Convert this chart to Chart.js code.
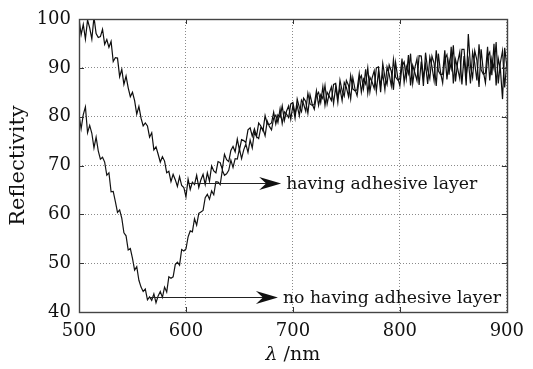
<!DOCTYPE html>
<html>
<head>
<meta charset="utf-8">
<script src="https://cdn.jsdelivr.net/npm/chart.js@4"></script>
<style>
html, body { margin: 0; padding: 0; background: #fff; }
</style>
</head>
<body>
<canvas id="reflectChart" width="533" height="369"></canvas>
<script>
// sampling grid of the spectrometer, 2 nm steps
const wavelengths = Array.from({ length: 201 }, (_, i) => 500 + 2 * i);

const withAdhesive = [
    100.0, 96.8, 98.9, 95.9, 99.8, 98.2, 95.9, 100.4, 97.0, 96.2,
    96.4, 97.9, 94.8, 95.8, 94.2, 95.4, 91.3, 92.1, 92.0, 88.2,
    89.7, 86.6, 88.3, 85.9, 84.1, 85.0, 83.3, 80.5, 82.1, 79.7,
    78.1, 78.7, 78.1, 75.8, 76.7, 73.2, 73.8, 72.3, 70.7, 71.8,
    70.9, 68.5, 68.8, 66.7, 68.2, 67.1, 65.7, 67.7, 65.9, 65.5,
    63.6, 67.2, 65.1, 66.6, 66.1, 68.0, 65.5, 67.1, 68.2, 66.1,
    68.5, 66.8, 69.9, 68.9, 68.5, 70.8, 70.6, 69.2, 72.3, 71.2,
    70.8, 73.1, 73.9, 72.8, 75.4, 73.2, 75.3, 75.1, 74.7, 77.3,
    77.7, 76.0, 77.5, 76.0, 78.7, 78.1, 77.1, 80.2, 78.5, 78.4,
    78.7, 80.9, 78.5, 80.4, 79.9, 82.2, 79.2, 81.1, 82.2, 79.5,
    82.3, 79.7, 83.6, 81.9, 81.0, 83.8, 83.1, 80.7, 84.5, 82.6,
    81.5, 84.3, 85.0, 82.9, 86.1, 82.3, 85.0, 84.2, 83.3, 86.6,
    86.8, 83.9, 85.8, 83.3, 87.0, 86.0, 84.1, 88.4, 85.7, 85.3,
    85.5, 88.8, 85.0, 87.7, 86.7, 90.0, 85.1, 87.9, 89.4, 85.2,
    89.3, 85.0, 90.9, 88.1, 86.6, 90.6, 89.3, 85.5, 91.1, 88.0,
    86.3, 90.4, 91.2, 87.8, 92.6, 86.4, 90.5, 89.0, 87.4, 92.5,
    92.4, 87.9, 90.7, 86.7, 92.2, 90.3, 87.4, 93.6, 89.4, 88.6,
    88.7, 93.6, 87.6, 91.6, 89.8, 94.6, 87.2, 91.1, 93.2, 86.6,
    92.4, 86.4, 96.9, 90.3, 88.0, 93.5, 91.6, 86.1, 93.8, 89.3,
    86.9, 92.3, 93.2, 88.5, 94.9, 86.4, 91.9, 89.7, 83.6, 94.1,
    90.4
];

const withoutAdhesive = [
    80.3, 77.5, 80.4, 82.0, 76.7, 78.2, 76.6, 73.6, 75.8, 73.0,
    71.3, 71.7, 70.7, 68.0, 68.5, 64.6, 64.7, 62.6, 60.4, 60.9,
    59.2, 56.2, 55.6, 52.7, 53.0, 51.0, 48.6, 49.3, 46.5, 45.1,
    44.2, 44.7, 42.5, 43.1, 42.4, 43.7, 41.9, 43.3, 44.2, 43.0,
    45.1, 44.1, 47.2, 46.9, 47.2, 49.7, 50.2, 49.6, 52.8, 52.5,
    52.9, 55.4, 56.6, 56.4, 59.1, 57.8, 60.2, 60.5, 60.8, 63.4,
    64.1, 63.1, 64.8, 64.0, 66.7, 66.6, 66.1, 69.0, 68.0, 68.3,
    69.0, 71.1, 69.6, 71.4, 71.3, 73.4, 71.4, 73.2, 74.4, 72.7,
    75.2, 73.6, 76.8, 75.9, 75.5, 77.8, 77.5, 76.1, 79.1, 78.0,
    77.3, 79.7, 80.3, 78.8, 81.6, 78.6, 81.0, 80.5, 79.8, 82.6,
    82.9, 80.6, 82.3, 80.2, 83.4, 82.6, 81.1, 84.8, 82.6, 82.3,
    82.5, 85.3, 82.3, 84.5, 83.7, 86.4, 82.6, 84.8, 86.1, 82.7,
    86.1, 82.9, 87.5, 85.3, 84.2, 87.4, 86.4, 83.6, 88.0, 85.7,
    84.3, 87.6, 88.4, 85.7, 89.7, 84.8, 88.1, 87.1, 85.8, 90.0,
    90.2, 86.4, 88.8, 85.5, 90.2, 88.7, 86.3, 91.7, 88.1, 87.5,
    87.8, 91.9, 87.0, 90.3, 88.8, 92.9, 86.8, 90.0, 91.9, 86.5,
    91.3, 86.3, 93.1, 89.6, 87.8, 92.4, 90.9, 86.3, 92.9, 89.1,
    86.9, 91.8, 92.7, 88.6, 94.3, 86.8, 91.7, 89.9, 87.8, 93.8,
    93.8, 88.4, 91.6, 86.8, 93.2, 90.9, 87.4, 94.8, 89.6, 88.7,
    88.9, 94.3, 87.4, 91.9, 89.8, 95.3, 86.8, 91.1, 93.5, 86.0,
    91.2
];

const xTicks = [500, 600, 700, 800, 900];
const yTicks = [40, 50, 60, 70, 80, 90, 100];

// arrow notes: line from `from` to `to` (nm) at reflectivity `at`
const notes = [
    { text: 'having adhesive layer', from: 601, to: 689, at: 66.4 },
    { text: 'no having adhesive layer', from: 566, to: 686, at: 43.1 }
];

const serif = 'DejaVu Serif';

function toPoints(values) {
    return values.map((v, i) => ({ x: wavelengths[i], y: v }));
}

const framePlugin = {
    id: 'frame',
    afterDraw(chart) {
        const { ctx, chartArea: a, scales: { x, y } } = chart;
        ctx.save();
        ctx.strokeStyle = '#333';
        ctx.lineWidth = 1;

        // inward tick marks on all four sides
        ctx.beginPath();
        xTicks.forEach(t => {
            const px = Math.round(x.getPixelForValue(t)) + 0.5;
            ctx.moveTo(px, a.bottom); ctx.lineTo(px, a.bottom - 5);
            ctx.moveTo(px, a.top); ctx.lineTo(px, a.top + 5);
        });
        yTicks.forEach(t => {
            const py = Math.round(y.getPixelForValue(t)) + 0.5;
            ctx.moveTo(a.left, py); ctx.lineTo(a.left + 5, py);
            ctx.moveTo(a.right, py); ctx.lineTo(a.right - 5, py);
        });
        ctx.stroke();

        ctx.strokeStyle = '#444';
        ctx.lineWidth = 1.4;
        ctx.strokeRect(Math.round(a.left) + 0.5, Math.round(a.top) + 0.5,
            Math.round(a.right - a.left), Math.round(a.bottom - a.top));

        // arrows and their labels
        ctx.fillStyle = '#111';
        ctx.strokeStyle = '#222';
        ctx.lineWidth = 1;
        ctx.font = '17.3px "' + serif + '"';
        ctx.textBaseline = 'middle';
        notes.forEach(n => {
            const x0 = x.getPixelForValue(n.from);
            const tip = x.getPixelForValue(n.to);
            const py = Math.round(y.getPixelForValue(n.at)) + 0.5;
            ctx.beginPath();
            ctx.moveTo(x0, py);
            ctx.lineTo(tip - 14, py);
            ctx.stroke();
            ctx.beginPath();
            ctx.moveTo(tip, py);
            ctx.lineTo(tip - 22, py - 6.5);
            ctx.lineTo(tip - 15, py);
            ctx.lineTo(tip - 22, py + 6.5);
            ctx.closePath();
            ctx.fill();
            ctx.fillText(n.text, tip + 5, py + 1);
        });

        // x axis title with italic lambda
        const cx = (a.left + a.right) / 2;
        const ty = 355;
        ctx.font = 'italic 19px "' + serif + '"';
        const lam = 'λ';
        const lamW = ctx.measureText(lam).width;
        ctx.font = '19px "' + serif + '"';
        const rest = ' /nm';
        const restW = ctx.measureText(rest).width;
        const sx = cx - (lamW + restW) / 2;
        ctx.textAlign = 'left';
        ctx.font = 'italic 19px "' + serif + '"';
        ctx.fillText(lam, sx, ty);
        ctx.font = '19px "' + serif + '"';
        ctx.fillText(rest, sx + lamW, ty);
        ctx.restore();
    }
};

new Chart(document.getElementById('reflectChart'), {
    type: 'line',
    data: {
        datasets: [
            {
                label: 'having adhesive layer',
                data: toPoints(withAdhesive),
                borderColor: '#0d0d0d',
                borderWidth: 1.2,
                pointRadius: 0,
                tension: 0
            },
            {
                label: 'no having adhesive layer',
                data: toPoints(withoutAdhesive),
                borderColor: '#141414',
                borderWidth: 1.2,
                pointRadius: 0,
                tension: 0
            }
        ]
    },
    options: {
        responsive: false,
        animation: false,
        events: [],
        layout: { padding: { top: 19, right: 24, left: 0, bottom: 0 } },
        plugins: {
            legend: { display: false },
            tooltip: { enabled: false }
        },
        scales: {
            x: {
                type: 'linear',
                min: 500,
                max: 900,
                afterBuildTicks: s => { s.ticks = xTicks.map(v => ({ value: v })); },
                afterFit: s => { s.height = 57; },
                grid: { color: '#8a8a8a', drawTicks: false, lineWidth: 1 },
                border: { display: false, dash: [1, 2] },
                ticks: { padding: 9, color: '#111', font: { family: serif, size: 18 } }
            },
            y: {
                min: 40,
                max: 100,
                afterBuildTicks: s => { s.ticks = yTicks.map(v => ({ value: v })); },
                afterFit: s => { s.width = 79; },
                grid: { color: '#8a8a8a', drawTicks: false, lineWidth: 1 },
                border: { display: false, dash: [1, 2] },
                ticks: { padding: 8, color: '#111', font: { family: serif, size: 18 } },
                title: {
                    display: true,
                    text: 'Reflectivity',
                    color: '#111',
                    font: { family: serif, size: 21 },
                    padding: { top: 6 }
                }
            }
        }
    },
    plugins: [framePlugin]
});
</script>
</body>
</html>
